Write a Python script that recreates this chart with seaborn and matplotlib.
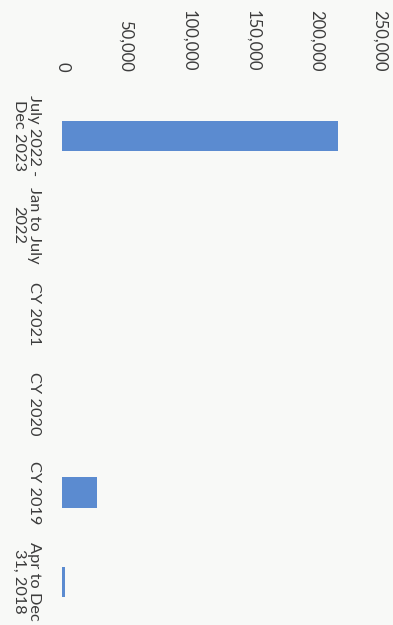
import matplotlib
matplotlib.use("Agg")
import matplotlib.pyplot as plt
import seaborn as sns
import pandas as pd
from matplotlib.ticker import FuncFormatter

categories = ["July 2022 -\nDec 2023", "Jan to July\n2022", "CY 2021", "CY 2020", "CY 2019", "Apr to Dec\n31, 2018"]
values = [217000, 0, 0, 0, 27500, 2000]
value_ticks = [0, 50000, 100000, 150000, 200000, 250000]

sns.set_style("white")
plt.rcParams['font.family'] = ['Lato', 'DejaVu Sans']

df = pd.DataFrame({"period": categories, "count": values})

bg = "#f8f9f7"
txt = "#3c3c3c"
fig = plt.figure(figsize=(3.93, 6.25), dpi=100, facecolor=bg)
ax = fig.add_axes([0.158, -0.002, 0.809, 0.856])
ax.set_facecolor(bg)

sns.barplot(data=df, x="count", y="period", orient="h", color="#5b8bd0",
            width=0.34, saturation=1, linewidth=0, ax=ax)

ax.set_xlim(0, 250000)
ax.set_xticks(value_ticks)
ax.xaxis.set_major_formatter(FuncFormatter(lambda v, p: f"{int(v):,}"))
ax.xaxis.tick_top()
ax.tick_params(axis='x', top=True, bottom=False, labeltop=True, labelbottom=False,
               length=0, pad=14, labelsize=12, labelcolor=txt, labelrotation=-90)
for lab in ax.get_xticklabels():
    lab.set_va('bottom')
    lab.set_ha('center')

ax.tick_params(axis='y', length=0, pad=15, labelsize=11.8, labelcolor=txt)
for lab in ax.get_yticklabels():
    lab.set_rotation(-90)
    lab.set_ha('right')
    lab.set_va('center')
    lab.set_multialignment('center')
    lab.set_linespacing(1.15)

ax.set_xlabel("")
ax.set_ylabel("")
for s in ax.spines.values():
    s.set_visible(False)
ax.grid(False)

fig.savefig("out.png", dpi=100, facecolor=bg)
